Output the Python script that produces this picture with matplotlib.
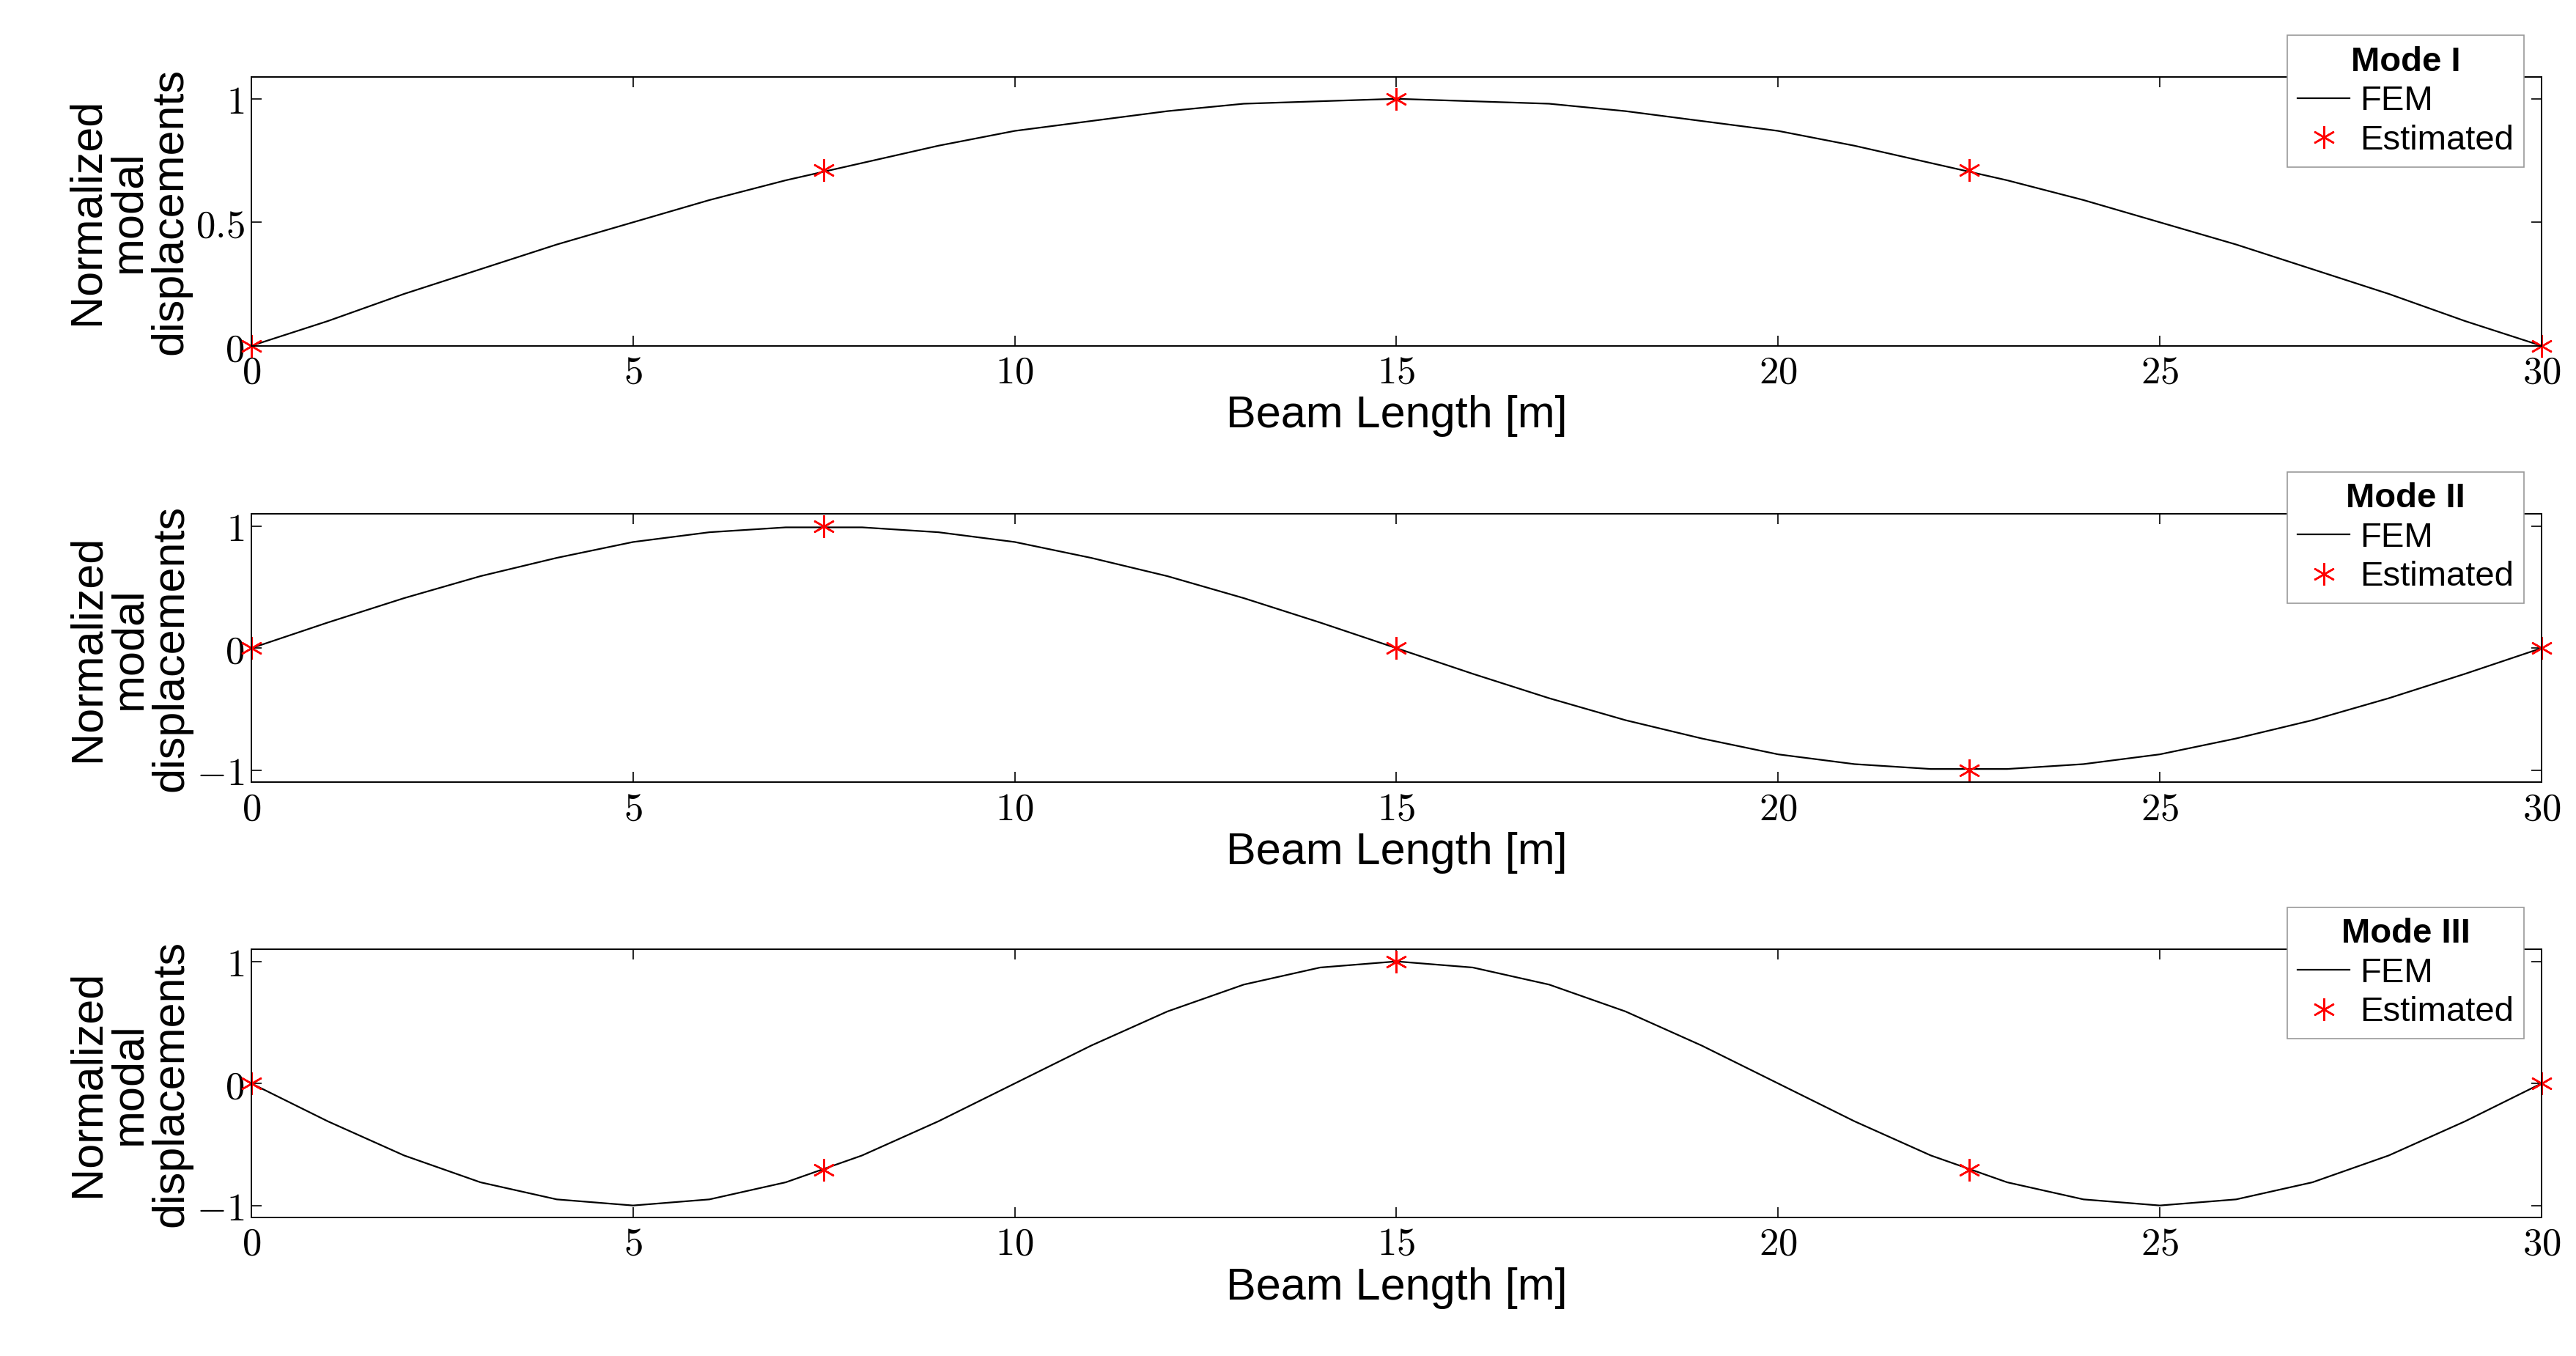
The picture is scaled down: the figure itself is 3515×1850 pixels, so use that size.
import matplotlib.pyplot as plt

plt.rcParams["mathtext.fontset"] = "cm"

x_fem = list(range(31))
mode1 = [0, .10, .21, .31, .41, .50, .59, .67, .74, .81, .87, .91, .95, .98, .99, 1.0,
         .99, .98, .95, .91, .87, .81, .74, .67, .59, .50, .41, .31, .21, .10, 0]
mode2 = [0, .21, .41, .59, .74, .87, .95, .99, .99, .95, .87, .74, .59, .41, .21, 0,
         -.21, -.41, -.59, -.74, -.87, -.95, -.99, -.99, -.95, -.87, -.74, -.59, -.41, -.21, 0]
mode3 = [0, -.31, -.59, -.81, -.95, -1, -.95, -.81, -.59, -.31, 0,
         .31, .59, .81, .95, 1, .95, .81, .59, .31, 0,
         -.31, -.59, -.81, -.95, -1, -.95, -.81, -.59, -.31, 0]

x_est = [0, 7.5, 15, 22.5, 30]
est1 = [0, .71, 1, .71, 0]
est2 = [0, 1, 0, -1, 0]
est3 = [0, -.71, 1, -.71, 0]

titles = ["Mode I", "Mode II", "Mode III"]
fems = [mode1, mode2, mode3]
ests = [est1, est2, est3]
ylims = [(0, 1.087), (-1.1, 1.1), (-1.1, 1.1)]
yticks = [[0, 0.5, 1], [-1, 0, 1], [-1, 0, 1]]
ytick_labels = [["0", "0.5", "1"], ["-1", "0", "1"], ["-1", "0", "1"]]
xticks = [0, 5, 10, 15, 20, 25, 30]

fig = plt.figure(figsize=(17.575, 9.25), dpi=200)
bottoms = [0.745, 0.423, 0.102]

for i in range(3):
    ax = fig.add_axes([0.0976, bottoms[i], 0.889, 0.198])
    ax.plot(x_fem, fems[i], color="black", lw=0.8, label="FEM")
    ax.plot(x_est, ests[i], marker=(6, 2, 0), color="red", ms=11, mew=0.9,
            linestyle="none", label="Estimated", clip_on=False)
    ax.set_xlim(0, 30)
    ax.set_ylim(*ylims[i])
    ax.set_xticks(xticks)
    ax.set_xticklabels([f"${v}$" for v in xticks])
    ax.set_yticks(yticks[i])
    ax.set_yticklabels([f"${v}$" for v in ytick_labels[i]])
    ax.tick_params(direction="in", top=True, right=True, labelsize=19, length=5, width=0.6)
    for s in ax.spines.values():
        s.set_linewidth(0.7)
    ax.set_xlabel("Beam Length [m]", fontsize=22, family="Liberation Sans", labelpad=2)
    ax.set_ylabel("Normalized\nmodal\ndisplacements", fontsize=22, family="Liberation Sans",
                  linespacing=1.0, labelpad=2)
    leg = ax.legend(loc="upper right", bbox_to_anchor=(1.0, 1.22), title=titles[i],
                    title_fontproperties={"weight": "bold", "size": 17,
                                          "family": "Liberation Sans"},
                    prop={"family": "Liberation Sans", "size": 17},
                    fancybox=False, edgecolor="#999999", framealpha=1,
                    borderpad=0.3, handlelength=1.5, handletextpad=0.3, labelspacing=0.2)
    leg.get_frame().set_linewidth(0.6)

fig.savefig("out.png", dpi=200)
